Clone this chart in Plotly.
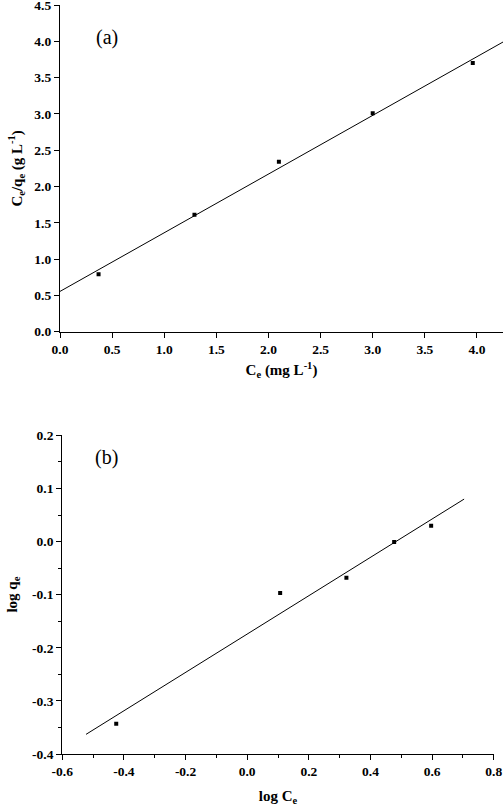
import plotly.graph_objs as go
from plotly.subplots import make_subplots

# (a) Langmuir: Ce vs Ce/qe
ce_a = [0.37, 1.29, 2.10, 3.00, 3.96]
ceqe_a = [0.79, 1.61, 2.34, 3.01, 3.70]
fit_a_x = [0.0, 4.25]
fit_a_y = [0.555, 3.99]

# (b) Freundlich: log Ce vs log qe
logce_b = [-0.425, 0.107, 0.322, 0.477, 0.597]
logqe_b = [-0.343, -0.097, -0.068, -0.001, 0.030]
fit_b_x = [-0.523, 0.704]
fit_b_y = [-0.363, 0.080]

xa_ticks = [0.0, 0.5, 1.0, 1.5, 2.0, 2.5, 3.0, 3.5, 4.0]
ya_ticks = [0.0, 0.5, 1.0, 1.5, 2.0, 2.5, 3.0, 3.5, 4.0, 4.5]
xb_ticks = [-0.6, -0.4, -0.2, 0.0, 0.2, 0.4, 0.6, 0.8]
yb_ticks = [-0.4, -0.3, -0.2, -0.1, 0.0, 0.1, 0.2]

serif = "Liberation Serif"

fig = make_subplots(rows=2, cols=1)

fig.add_trace(go.Scatter(x=fit_a_x, y=fit_a_y, mode='lines',
                         line=dict(color='black', width=1)), row=1, col=1)
fig.add_trace(go.Scatter(x=ce_a, y=ceqe_a, mode='markers',
                         marker=dict(symbol='square', size=4, color='black')), row=1, col=1)
fig.add_trace(go.Scatter(x=fit_b_x, y=fit_b_y, mode='lines',
                         line=dict(color='black', width=1)), row=2, col=1)
fig.add_trace(go.Scatter(x=logce_b, y=logqe_b, mode='markers',
                         marker=dict(symbol='square', size=4, color='black')), row=2, col=1)

tickfont = dict(family=serif, size=13.5, color='black')
titlefont = dict(family=serif, size=15, color='black')


def lbl(v):
    return '<b>%.1f</b>' % v


axis_common = dict(showgrid=False, zeroline=False, showline=True, linecolor='black',
                   linewidth=1.3, ticks='outside', ticklen=5, tickwidth=1.2,
                   tickcolor='black', tickfont=tickfont, automargin=False,
                   ticklabeloverflow='allow')

fig.update_xaxes(axis_common)
fig.update_yaxes(axis_common)

fig.update_layout(
    xaxis=dict(domain=[0, 1], range=[0, 4.25], tickvals=xa_ticks,
               ticktext=[lbl(v) for v in xa_ticks],
               title=dict(text='<b>C<sub>e</sub> (mg L<sup>-1</sup>)</b>', font=titlefont, standoff=8)),
    yaxis=dict(domain=[0.5638, 1], range=[0, 4.5001], tickvals=ya_ticks,
               ticktext=[lbl(v) for v in ya_ticks],
               title=dict(text='<b>C<sub>e</sub>/q<sub>e</sub> (g L<sup>-1</sup>)</b>', font=titlefont, standoff=8)),
    xaxis2=dict(domain=[0.0052, 0.979], range=[-0.6, 0.8], tickvals=xb_ticks,
                ticktext=[lbl(v) for v in xb_ticks],
                minor=dict(dtick=0.1, ticklen=3, tickcolor='black', ticks='outside'),
                title=dict(text='<b>log C<sub>e</sub></b>', font=titlefont, standoff=12)),
    yaxis2=dict(domain=[0, 0.4255], range=[-0.4, 0.2001], tickvals=yb_ticks,
                ticktext=[lbl(v) for v in yb_ticks],
                minor=dict(dtick=0.05, ticklen=3, tickcolor='black', ticks='outside'),
                title=dict(text='<b>log q<sub>e</sub></b>', font=titlefont, standoff=10)),
    annotations=[
        dict(text='(a)', x=0.077, y=0.942, xref='x domain', yref='y domain',
             showarrow=False, font=dict(family=serif, size=20, color='black')),
        dict(text='(b)', x=0.071, y=0.973, xref='x2 domain', yref='y2 domain',
             showarrow=False, font=dict(family=serif, size=20, color='black')),
    ],
    showlegend=False,
    width=503, height=809,
    margin=dict(l=60, r=0, t=5, b=55),
    plot_bgcolor='white', paper_bgcolor='white',
)

# drop the page's default body margin so the figure sits at the window corner
fig.write_html("out.html", config={'displayModeBar': False},
               post_script="document.body.style.margin='0';document.body.style.overflow='hidden';")
